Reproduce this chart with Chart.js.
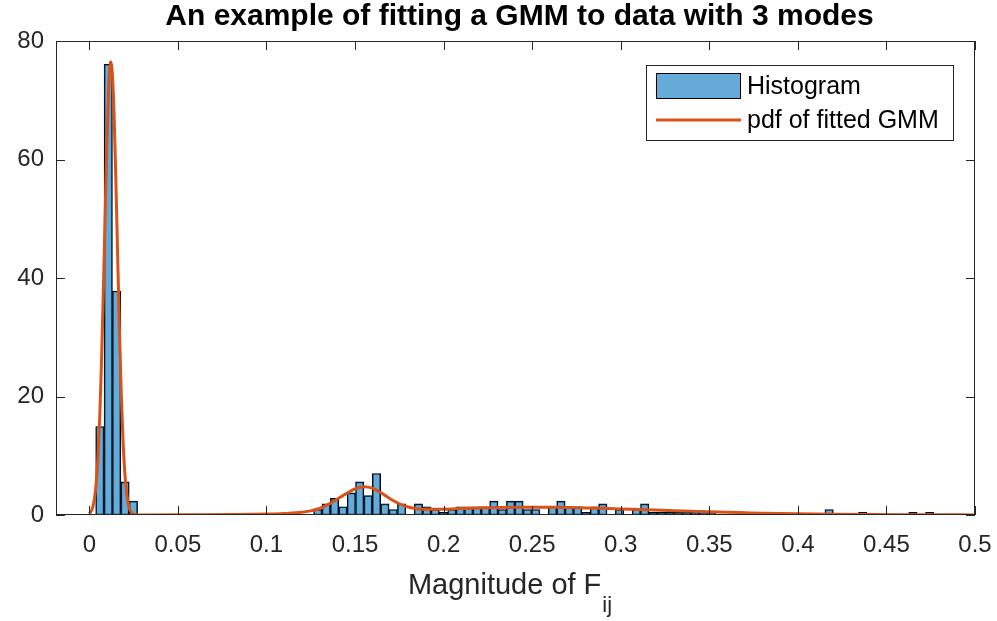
<!DOCTYPE html>
<html><head><meta charset="utf-8">
<script src="https://cdn.jsdelivr.net/npm/chart.js@4.4.1/dist/chart.umd.min.js"></script>
<style>html,body{margin:0;padding:0;background:#fff}#wrap{width:997px;height:621px;position:relative}</style>
</head><body><div id="wrap"><canvas id="c" width="997" height="621" style="width:997px;height:621px"></canvas></div>
<script>
const chartTitle = "An example of fitting a GMM to data with 3 modes";
const xLabelMain = "Magnitude of F";
const xLabelSub = "ij";
const legendLabels = ["Histogram", "pdf of fitted GMM"];
const xTicks = [0, 0.05, 0.1, 0.15, 0.2, 0.25, 0.3, 0.35, 0.4, 0.45, 0.5];
const xTickLabels = ["0", "0.05", "0.1", "0.15", "0.2", "0.25", "0.3", "0.35", "0.4", "0.45", "0.5"];
const yTicks = [0, 20, 40, 60, 80];

// histogram: 100 bins
const binStart = 0.0036;
const binWidth = 0.004732;
const histValues = [
  14.93, 76.07, 37.8, 5.6, 2.33, 0, 0, 0, 0, 0,
  0, 0, 0, 0, 0, 0, 0, 0, 0, 0,
  0, 0, 0, 0, 0, 0, 0.93, 1.87, 2.8, 1.4,
  3.73, 5.6, 3.27, 7.0, 1.87, 0.93, 1.87, 0, 1.87, 1.4,
  0.93, 0.47, 0.93, 1.4, 1.4, 1.4, 1.4, 2.33, 0.93, 2.33,
  2.33, 0.93, 0.93, 0, 1.4, 2.33, 1.4, 1.4, 0.47, 1.4,
  1.87, 0, 0.93, 0, 0.93, 1.87, 0.47, 0.47, 0.47, 0.47,
  0.47, 0.47, 0.47, 0.47, 0, 0, 0, 0, 0, 0,
  0, 0, 0, 0, 0, 0, 0, 0.93, 0, 0,
  0, 0.47, 0, 0, 0, 0, 0, 0.47, 0, 0.47
];

// fitted GMM pdf
const pdfX = [0, 0.001, 0.002, 0.003, 0.004, 0.005, 0.006, 0.007, 0.008, 0.009, 0.010, 0.011, 0.012, 0.0122, 0.013, 0.014, 0.015, 0.016, 0.017, 0.018, 0.019, 0.020, 0.021, 0.022, 0.023, 0.024, 0.025, 0.026, 0.028, 0.03, 0.06, 0.08, 0.10, 0.11, 0.12, 0.125, 0.13, 0.135, 0.14, 0.145, 0.15, 0.155, 0.16, 0.165, 0.17, 0.175, 0.18, 0.185, 0.19, 0.20, 0.21, 0.22, 0.23, 0.24, 0.25, 0.26, 0.27, 0.28, 0.29, 0.30, 0.31, 0.32, 0.33, 0.34, 0.35, 0.36, 0.37, 0.38, 0.39, 0.40, 0.42, 0.44, 0.46, 0.48, 0.50];
const pdfY = [0.25, 0.61, 1.38, 2.92, 5.72, 10.35, 17.4, 27.0, 38.7, 51.5, 63.5, 72.4, 76.4, 76.5, 74.6, 67.5, 56.5, 43.8, 31.4, 20.9, 12.85, 7.31, 3.86, 1.88, 0.85, 0.36, 0.14, 0.05, 0.02, 0.02, 0.05, 0.08, 0.15, 0.25, 0.45, 0.7, 1.1, 1.8, 2.7, 3.6, 4.4, 4.75, 4.5, 3.7, 2.7, 1.9, 1.35, 1.05, 0.95, 0.98, 1.08, 1.18, 1.25, 1.3, 1.32, 1.3, 1.27, 1.2, 1.12, 1.03, 0.93, 0.83, 0.73, 0.63, 0.53, 0.45, 0.38, 0.31, 0.25, 0.2, 0.13, 0.08, 0.05, 0.03, 0.02];

const AXIS = '#262626';
const FONT = '"Liberation Sans", Arial, Helvetica, sans-serif';
const histColor = 'rgba(0,114,189,0.6)';
const lineColor = '#D95319';

const histData = histValues.map((v, i) => ({ x: binStart + binWidth * (i + 0.5), y: v }));
const pdfData = pdfX.map((x, i) => ({ x: x, y: pdfY[i] }));

const matlabAxes = {
  id: 'matlabAxes',
  beforeDatasetsDraw(chart) {
    const ctx = chart.ctx, xs = chart.scales.x, ys = chart.scales.y;
    ctx.save();
    ctx.strokeStyle = 'rgba(0,0,0,0.55)'; ctx.lineWidth = 1;
    ctx.beginPath();
    const y0 = Math.round(ys.getPixelForValue(0)) - 0.5;
    ctx.moveTo(xs.getPixelForValue(binStart), y0);
    ctx.lineTo(xs.getPixelForValue(binStart + binWidth * histValues.length), y0);
    ctx.stroke();
    ctx.restore();
  },
  afterDraw(chart) {
    const ctx = chart.ctx, a = chart.chartArea;
    const xs = chart.scales.x, ys = chart.scales.y;
    ctx.save();
    ctx.strokeStyle = AXIS; ctx.lineWidth = 1;
    ctx.strokeRect(Math.round(a.left) + 0.5, Math.round(a.top) + 0.5, Math.round(a.right - a.left) - 1, Math.round(a.bottom - a.top) - 1);
    const tl = 9;
    ctx.beginPath();
    xTicks.forEach(v => {
      const p = Math.round(xs.getPixelForValue(v)) + 0.5;
      ctx.moveTo(p, a.bottom); ctx.lineTo(p, a.bottom - tl);
      ctx.moveTo(p, a.top); ctx.lineTo(p, a.top + tl);
    });
    yTicks.forEach(v => {
      const p = Math.round(ys.getPixelForValue(v)) + 0.5;
      ctx.moveTo(a.left, p); ctx.lineTo(a.left + tl, p);
      ctx.moveTo(a.right, p); ctx.lineTo(a.right - tl, p);
    });
    ctx.stroke();
    ctx.fillStyle = '#000';
    ctx.font = 'bold 30px ' + FONT;
    ctx.textAlign = 'center'; ctx.textBaseline = 'alphabetic';
    const cx = (a.left + a.right) / 2;
    ctx.fillText(chartTitle, cx + 4, 25);
    ctx.fillStyle = AXIS;
    ctx.font = '29px ' + FONT;
    const w1 = ctx.measureText(xLabelMain).width;
    ctx.font = '22px ' + FONT;
    const w2 = ctx.measureText(xLabelSub).width;
    const sx = cx - 6 - (w1 + w2) / 2;
    ctx.textAlign = 'left';
    ctx.font = '29px ' + FONT;
    ctx.fillText(xLabelMain, sx, 594);
    ctx.font = '22px ' + FONT;
    ctx.fillText(xLabelSub, sx + w1 + 1, 612);
    const lx = 646.5, ly = 65.5, lw = 307, lh = 75;
    ctx.fillStyle = '#fff';
    ctx.fillRect(lx, ly, lw, lh);
    ctx.strokeStyle = AXIS; ctx.lineWidth = 1;
    ctx.strokeRect(lx, ly, lw, lh);
    const ds = chart.data.datasets;
    ctx.fillStyle = ds[0].backgroundColor;
    ctx.fillRect(656, 73, 85, 26);
    ctx.strokeStyle = '#000';
    ctx.strokeRect(656.5, 73.5, 84, 25);
    ctx.strokeStyle = ds[1].borderColor; ctx.lineWidth = 3;
    ctx.beginPath(); ctx.moveTo(656, 120); ctx.lineTo(741, 120); ctx.stroke();
    ctx.fillStyle = '#000';
    ctx.font = '25px ' + FONT;
    ctx.textBaseline = 'middle';
    ctx.fillText(ds[0].label, 747, 87);
    ctx.fillText(ds[1].label, 747, 121);
    ctx.restore();
  }
};

new Chart(document.getElementById('c'), {
  type: 'bar',
  data: {
    datasets: [
      { type: 'bar', label: legendLabels[0], data: histData, backgroundColor: histColor,
        borderColor: '#000', borderWidth: 1, barPercentage: 1, categoryPercentage: 1, order: 2, borderSkipped: false },
      { type: 'line', label: legendLabels[1], data: pdfData, borderColor: lineColor, borderWidth: 3,
        pointRadius: 0, cubicInterpolationMode: 'monotone', fill: false, order: 1 }
    ]
  },
  options: {
    responsive: false, animation: false, devicePixelRatio: 1,
    layout: { padding: { top: 41, right: 22, left: 0, bottom: 0 } },
    plugins: { legend: { display: false }, tooltip: { enabled: false }, title: { display: false } },
    scales: {
      x: {
        type: 'linear', min: -0.0188, max: 0.5, offset: false,
        grid: { display: false, drawTicks: false },
        border: { display: false },
        afterBuildTicks: s => { s.ticks = xTicks.map(v => ({ value: v })); },
        afterFit: s => { s.height = 106; s.paddingLeft = 0; s.paddingRight = 0; },
        ticks: { padding: 16, color: AXIS, font: { family: FONT, size: 24 }, maxRotation: 0, autoSkip: false,
          callback: (v) => { const i = xTicks.indexOf(v); return i >= 0 ? xTickLabels[i] : ''; } }
      },
      y: {
        min: 0, max: 80,
        grid: { display: false, drawTicks: false },
        border: { display: false },
        afterBuildTicks: s => { s.ticks = yTicks.map(v => ({ value: v })); },
        afterFit: s => { s.width = 56; s.paddingTop = 0; s.paddingBottom = 0; },
        ticks: { padding: 12, color: AXIS, font: { family: FONT, size: 24 } }
      }
    }
  },
  plugins: [matlabAxes]
});
</script>
</body></html>
